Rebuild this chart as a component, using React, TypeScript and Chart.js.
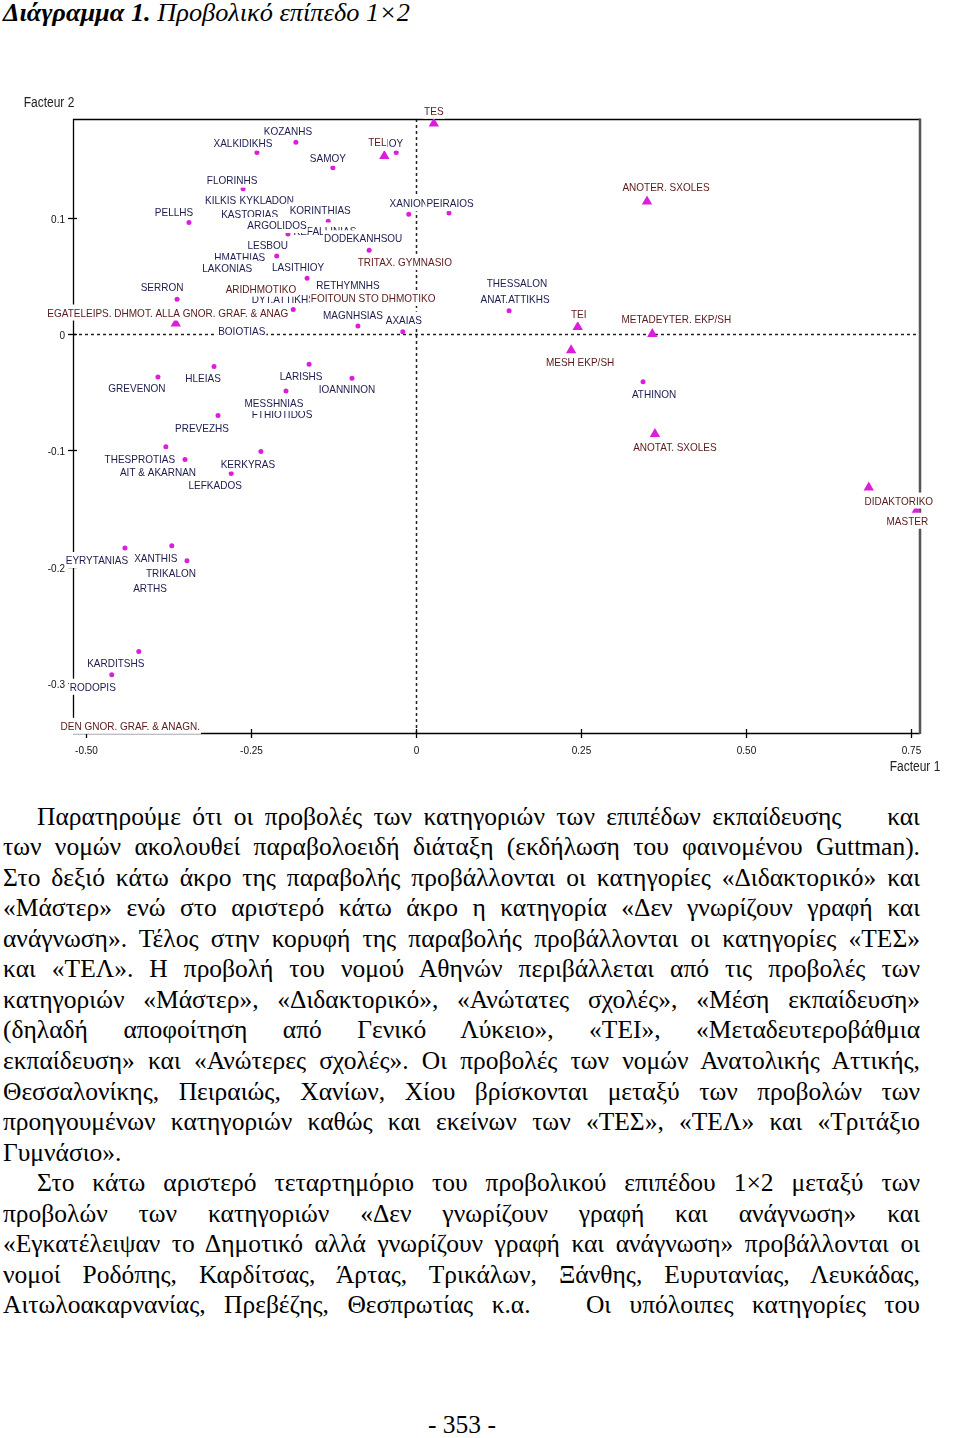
import React, { useEffect, useLayoutEffect, useRef } from 'react';
import { Chart, registerables } from 'chart.js';

Chart.register(...registerables);

// ---------------- DATA ----------------
// Departments (nomoi) – magenta dots, navy labels
const districtNames = [
  'XIOY', 'KILKIS', 'KYKLADON', 'KASTORIAS', 'KEFALLINIAS', 'HMATHIAS', 'RETHYMNHS',
  'FTHIOTIDOS', 'THESSALON', 'ARTHS', 'BOIOTIAS', 'LAKONIAS', 'DYT.ATTIKHS',
  'KOZANHS', 'XALKIDIKHS', 'SAMOY', 'FLORINHS', 'PELLHS', 'KORINTHIAS', 'ARGOLIDOS',
  'DODEKANHSOU', 'LESBOU', 'LASITHIOY', 'SERRON', 'MAGNHSIAS', 'AXAIAS', 'XANION',
  'PEIRAIOS', 'ANAT.ATTIKHS', 'ATHINON', 'GREVENON', 'HLEIAS', 'LARISHS', 'IOANNINON',
  'MESSHNIAS', 'PREVEZHS', 'THESPROTIAS', 'AIT & AKARNAN', 'KERKYRAS', 'LEFKADOS',
  'EYRYTANIAS', 'XANTHIS', 'TRIKALON', 'KARDITSHS', 'RODOPIS',
];
const districtX = [
  -0.030, -0.296, -0.226, -0.252, -0.138, -0.267, -0.103,
  -0.203, 0.153, -0.403, -0.264, -0.286, -0.186,
  -0.182, -0.241, -0.126, -0.262, -0.344, -0.133, -0.194,
  -0.071, -0.211, -0.165, -0.362, -0.088, -0.020, -0.011,
  0.050, 0.141, 0.344, -0.391, -0.306, -0.162, -0.097,
  -0.197, -0.300, -0.379, -0.350, -0.235, -0.280,
  -0.441, -0.370, -0.347, -0.420, -0.461,
];
const districtY = [
  0.156, 0.115, 0.115, 0.103, 0.089, 0.066, 0.042,
  -0.069, 0.044, -0.218, 0.003, 0.057, 0.021,
  0.165, 0.156, 0.143, 0.125, 0.096, 0.097, 0.086,
  0.072, 0.067, 0.048, 0.030, 0.007, 0.002, 0.103,
  0.104, 0.020, -0.041, -0.037, -0.028, -0.026, -0.038,
  -0.049, -0.070, -0.097, -0.108, -0.101, -0.120,
  -0.184, -0.182, -0.195, -0.273, -0.293,
];

// Education categories – magenta triangles, maroon labels
const categoryNames = [
  'TRITAX. GYMNASIO', 'ARIDHMOTIKO', 'FOITOUN STO DHMOTIKO', 'DEN GNOR. GRAF. & ANAGN.',
  'TEL', 'TES', 'ANOTER. SXOLES', 'EGATELEIPS. DHMOT. ALLA GNOR. GRAF. & ANAG',
  'TEI', 'METADEYTER. EKP/SH', 'MESH EKP/SH', 'ANOTAT. SXOLES', 'DIDAKTORIKO', 'MASTER',
];
const categoryX = [
  -0.017, -0.235, -0.065, -0.433,
  -0.048, 0.027, 0.350, -0.364,
  0.245, 0.358, 0.235, 0.362, 0.686, 0.758,
];
const categoryY = [
  0.062, 0.039, 0.031, -0.337,
  0.153, 0.181, 0.114, 0.009,
  0.006, 0.000, -0.014, -0.086, -0.132, -0.152,
];

const xTicks = [-0.5, -0.25, 0, 0.25, 0.5, 0.75];
const xTickLabels = ['-0.50', '-0.25', '0', '0.25', '0.50', '0.75'];
const yTicks = [0.1, 0, -0.1, -0.2, -0.3];
const yTickLabels = ['0.1', '0', '-0.1', '-0.2', '-0.3'];
const xAxisTitle = 'Facteur 1';
const yAxisTitle = 'Facteur 2';

const titleBold = 'Διάγραμμα 1.';
const titleRest = 'Προβολικό επίπεδο 1×2';

const paragraphLines = [
  'Παρατηρούμε ότι οι προβολές των κατηγοριών των επιπέδων εκπαίδευσης    και',
  'των νομών ακολουθεί παραβολοειδή διάταξη (εκδήλωση του φαινομένου Guttman).',
  'Στο δεξιό κάτω άκρο της παραβολής προβάλλονται οι κατηγορίες «Διδακτορικό» και',
  '«Μάστερ» ενώ στο αριστερό κάτω άκρο η κατηγορία «Δεν γνωρίζουν γραφή και',
  'ανάγνωση». Τέλος στην κορυφή της παραβολής προβάλλονται οι κατηγορίες «ΤΕΣ»',
  'και «ΤΕΛ». Η προβολή του νομού Αθηνών περιβάλλεται από τις προβολές των',
  'κατηγοριών «Μάστερ», «Διδακτορικό», «Ανώτατες σχολές», «Μέση εκπαίδευση»',
  '(δηλαδή αποφοίτηση από Γενικό Λύκειο», «ΤΕΙ», «Μεταδευτεροβάθμια',
  'εκπαίδευση» και «Ανώτερες σχολές». Οι προβολές των νομών Ανατολικής Αττικής,',
  'Θεσσαλονίκης, Πειραιώς, Χανίων, Χίου βρίσκονται μεταξύ των προβολών των',
  'προηγουμένων κατηγοριών καθώς και εκείνων των «ΤΕΣ», «ΤΕΛ» και «Τριτάξιο',
  'Γυμνάσιο».',
  'Στο κάτω αριστερό τεταρτημόριο του προβολικού επιπέδου 1×2 μεταξύ των',
  'προβολών των κατηγοριών «Δεν γνωρίζουν γραφή και ανάγνωση» και',
  '«Εγκατέλειψαν το Δημοτικό αλλά γνωρίζουν γραφή και ανάγνωση» προβάλλονται οι',
  'νομοί Ροδόπης, Καρδίτσας, Άρτας, Τρικάλων, Ξάνθης, Ευρυτανίας, Λευκάδας,',
  'Αιτωλοακαρνανίας, Πρεβέζης, Θεσπρωτίας κ.α.   Οι υπόλοιπες κατηγορίες του',
];
const pageNumber = '- 353 -';

// ---------------- STYLE / LAYOUT ----------------
// label centre offsets (px) relative to each marker, same order as the names
const districtLabelOffsets: [number, number][] = [
  [-5, -10], [0, 0], [0, 0], [0, 0], [0, 0], [0, 0], [0, 0],
  [0, 0], [0, 0], [0, 0], [0, 0], [0, 0], [-10, -11],
  [-8, -11], [-14, -10], [-5, -10], [-11, -9], [-15, -11], [-8, -11], [-11, -9],
  [-6, -12], [-9, -11], [-9, -11], [-15, -12], [-5, -11], [1, -12], [0, -11],
  [1, -10], [6, -12], [11, 12], [-21, 11], [-11, 11], [-8, 12], [-5, 11],
  [-12, 12], [-16, 12], [-26, 12], [-27, 12], [-13, 12], [-16, 11],
  [-28, 12], [-16, 12], [-16, 12], [-23, 11], [-19, 12],
];
const categoryLabelOffsets: [number, number][] = [
  [0, 0], [0, 0], [0, 0], [0, 0],
  [-7, -14], [0, -13], [19, -15], [-8, -11],
  [1, -13], [24, -15], [9, 12], [20, 13], [30, 13], [-9, 10],
];
const indentedLines = [0, 12];
const lastLines = [11];

const MAGENTA = '#dc1edc';
const NAVY = '#1c1c4e';
const MAROON = '#5a1a1a';
const LABEL_FONT = '10px "Liberation Sans", Arial, sans-serif';
const STRETCH = 1.15;
const SERIF = '"Liberation Serif", "Times New Roman", serif';
const BODY_SIZE = 25.5;

function stretchedText(ctx: CanvasRenderingContext2D, s: string, x: number, y: number, align: CanvasTextAlign, font: string, color: string) {
  ctx.save();
  ctx.font = font;
  ctx.fillStyle = color;
  ctx.textAlign = align;
  ctx.textBaseline = 'alphabetic';
  ctx.translate(x, y);
  ctx.scale(1, STRETCH);
  ctx.fillText(s, 0, 3.6);
  ctx.restore();
}

function line(ctx: CanvasRenderingContext2D, x1: number, y1: number, x2: number, y2: number) {
  ctx.beginPath();
  ctx.moveTo(x1, y1);
  ctx.lineTo(x2, y2);
  ctx.stroke();
}

const axesPlugin = {
  id: 'spadAxes',
  beforeDatasetsDraw(chart: any) {
    const ctx: CanvasRenderingContext2D = chart.ctx;
    const { left, right, top, bottom } = chart.chartArea;
    const xs = chart.scales.x;
    const ys = chart.scales.y;
    ctx.save();
    const x0 = Math.round(xs.getPixelForValue(0)) + 0.5;
    const y0 = Math.round(ys.getPixelForValue(0)) + 0.5;
    ctx.strokeStyle = '#222';
    ctx.lineWidth = 1.5;
    ctx.setLineDash([3, 3]);
    line(ctx, x0, top, x0, bottom);
    line(ctx, left, y0, right, y0);
    ctx.setLineDash([]);
    ctx.strokeStyle = '#000';
    ctx.lineWidth = 1.3;
    line(ctx, left, top + 0.5, right, top + 0.5);
    line(ctx, left + 0.5, top, left + 0.5, bottom);
    line(ctx, left, bottom + 0.5, right, bottom + 0.5);
    ctx.strokeStyle = '#555';
    ctx.lineWidth = 2.5;
    line(ctx, right, top - 0.5, right, bottom + 1);
    ctx.strokeStyle = '#000';
    ctx.lineWidth = 1.3;
    xTicks.forEach((v, i) => {
      const px = Math.round(xs.getPixelForValue(v)) + 0.5;
      line(ctx, px, bottom - 4, px, bottom + 5);
      stretchedText(ctx, xTickLabels[i], px, bottom + 17, 'center', LABEL_FONT, '#111');
    });
    yTicks.forEach((v, i) => {
      const py = Math.round(ys.getPixelForValue(v)) + 0.5;
      line(ctx, left - 5, py, left + 4, py);
      stretchedText(ctx, yTickLabels[i], left - 8, py, 'right', LABEL_FONT, '#111');
    });
    stretchedText(ctx, yAxisTitle, left - 24, top - 16, 'center', '12px "Liberation Sans", Arial, sans-serif', '#222');
    stretchedText(ctx, xAxisTitle, right - 5, bottom + 34, 'center', '12px "Liberation Sans", Arial, sans-serif', '#222');
    ctx.restore();
  },
  afterDatasetsDraw(chart: any) {
    const ctx: CanvasRenderingContext2D = chart.ctx;
    const groups: [string[], [number, number][], string, number][] = [
      [districtNames, districtLabelOffsets, NAVY, 0],
      [categoryNames, categoryLabelOffsets, MAROON, 1],
    ];
    ctx.save();
    groups.forEach(([names, offs, color, di]) => {
      const meta = chart.getDatasetMeta(di);
      meta.data.forEach((pt: any, i: number) => {
        const cx = pt.x + offs[i][0];
        const cy = pt.y + offs[i][1];
        ctx.font = LABEL_FONT;
        const w = ctx.measureText(names[i]).width;
        ctx.fillStyle = '#fff';
        ctx.fillRect(cx - w / 2 - 1, cy - 8, w + 2, 16);
        stretchedText(ctx, names[i], cx, cy, 'center', LABEL_FONT, color);
      });
    });
    ctx.restore();
  },
};

function FitLine(props: { text?: string; children?: any; left: number; right: number; top: number; mode: 'justify' | 'fit' | 'none'; fontSize: number; italic?: boolean; lineHeight: number; center?: boolean }) {
  const ref = useRef<HTMLSpanElement>(null);
  useLayoutEffect(() => {
    const el = ref.current;
    if (!el) return;
    el.style.wordSpacing = '0px';
    el.style.transform = 'none';
    const w = el.getBoundingClientRect().width;
    const target = props.right - props.left;
    const txt = props.text || '';
    const spaces = (txt.match(/ /g) || []).length;
    if (props.mode === 'justify' && w < target && spaces > 0) {
      el.style.wordSpacing = (target - w) / spaces + 'px';
    } else if (props.mode === 'fit' || (props.mode !== 'none' && w > target)) {
      el.style.transform = `scaleX(${target / w})`;
    }
  }, [props.text]);
  return (
    <div
      style={{
        position: 'absolute',
        left: props.left,
        top: props.top,
        width: props.right - props.left,
        height: props.lineHeight,
        lineHeight: props.lineHeight + 'px',
        fontSize: props.fontSize,
        fontFamily: SERIF,
        fontStyle: props.italic ? 'italic' : 'normal',
        whiteSpace: 'pre',
        color: '#000',
        textAlign: props.center ? 'center' : 'left',
      }}
    >
      <span ref={ref} style={{ display: 'inline-block', transformOrigin: '0 0' }}>
        {props.children ?? props.text}
      </span>
    </div>
  );
}

export default function App() {
  const canvasRef = useRef<HTMLCanvasElement>(null);

  useEffect(() => {
    const canvas = canvasRef.current;
    if (!canvas) return;
    const chart = new Chart(canvas, {
      type: 'scatter',
      data: {
        datasets: [
          {
            label: 'Nomoi',
            data: districtNames.map((_, i) => ({ x: districtX[i], y: districtY[i] })),
            pointStyle: 'circle',
            pointRadius: 2.5,
            backgroundColor: MAGENTA,
            borderWidth: 0,
          },
          {
            label: 'Katigories',
            data: categoryNames.map((_, i) => ({ x: categoryX[i], y: categoryY[i] })),
            pointStyle: 'triangle',
            pointRadius: 6,
            backgroundColor: MAGENTA,
            borderWidth: 0,
          },
        ],
      },
      options: {
        responsive: false,
        animation: false,
        events: [],
        layout: { padding: { left: 73, right: 40, top: 74, bottom: 62 } },
        scales: {
          x: { type: 'linear', display: false, min: -0.5197, max: 0.7636 },
          y: { type: 'linear', display: false, min: -0.3431, max: 0.1849 },
        },
        plugins: { legend: { display: false }, tooltip: { enabled: false } },
      },
      plugins: [axesPlugin],
    } as any);
    return () => chart.destroy();
  }, []);

  const LH = 30.56;
  return (
    <div style={{ position: 'absolute', left: 0, top: 0, width: 960, height: 1438, background: '#fff', overflow: 'hidden' }}>
      <FitLine left={3} right={410} top={-2} mode="fit" fontSize={26} italic lineHeight={30}>
        <b>{titleBold}</b>
        {' ' + titleRest}
      </FitLine>
      <div style={{ position: 'absolute', left: 0, top: 45, width: 960, height: 750 }}>
        <canvas ref={canvasRef} width={960} height={750} style={{ width: 960, height: 750, display: 'block' }} />
      </div>
      {paragraphLines.map((t, i) => (
        <FitLine
          key={i}
          text={t}
          left={indentedLines.includes(i) ? 37 : 3}
          right={920}
          top={826 + i * LH - 24.5}
          mode={lastLines.includes(i) ? 'none' : 'justify'}
          fontSize={BODY_SIZE}
          lineHeight={LH}
        />
      ))}
      <FitLine text={pageNumber} left={412} right={512} top={1410} mode="none" fontSize={BODY_SIZE} lineHeight={LH} center />
    </div>
  );
}
